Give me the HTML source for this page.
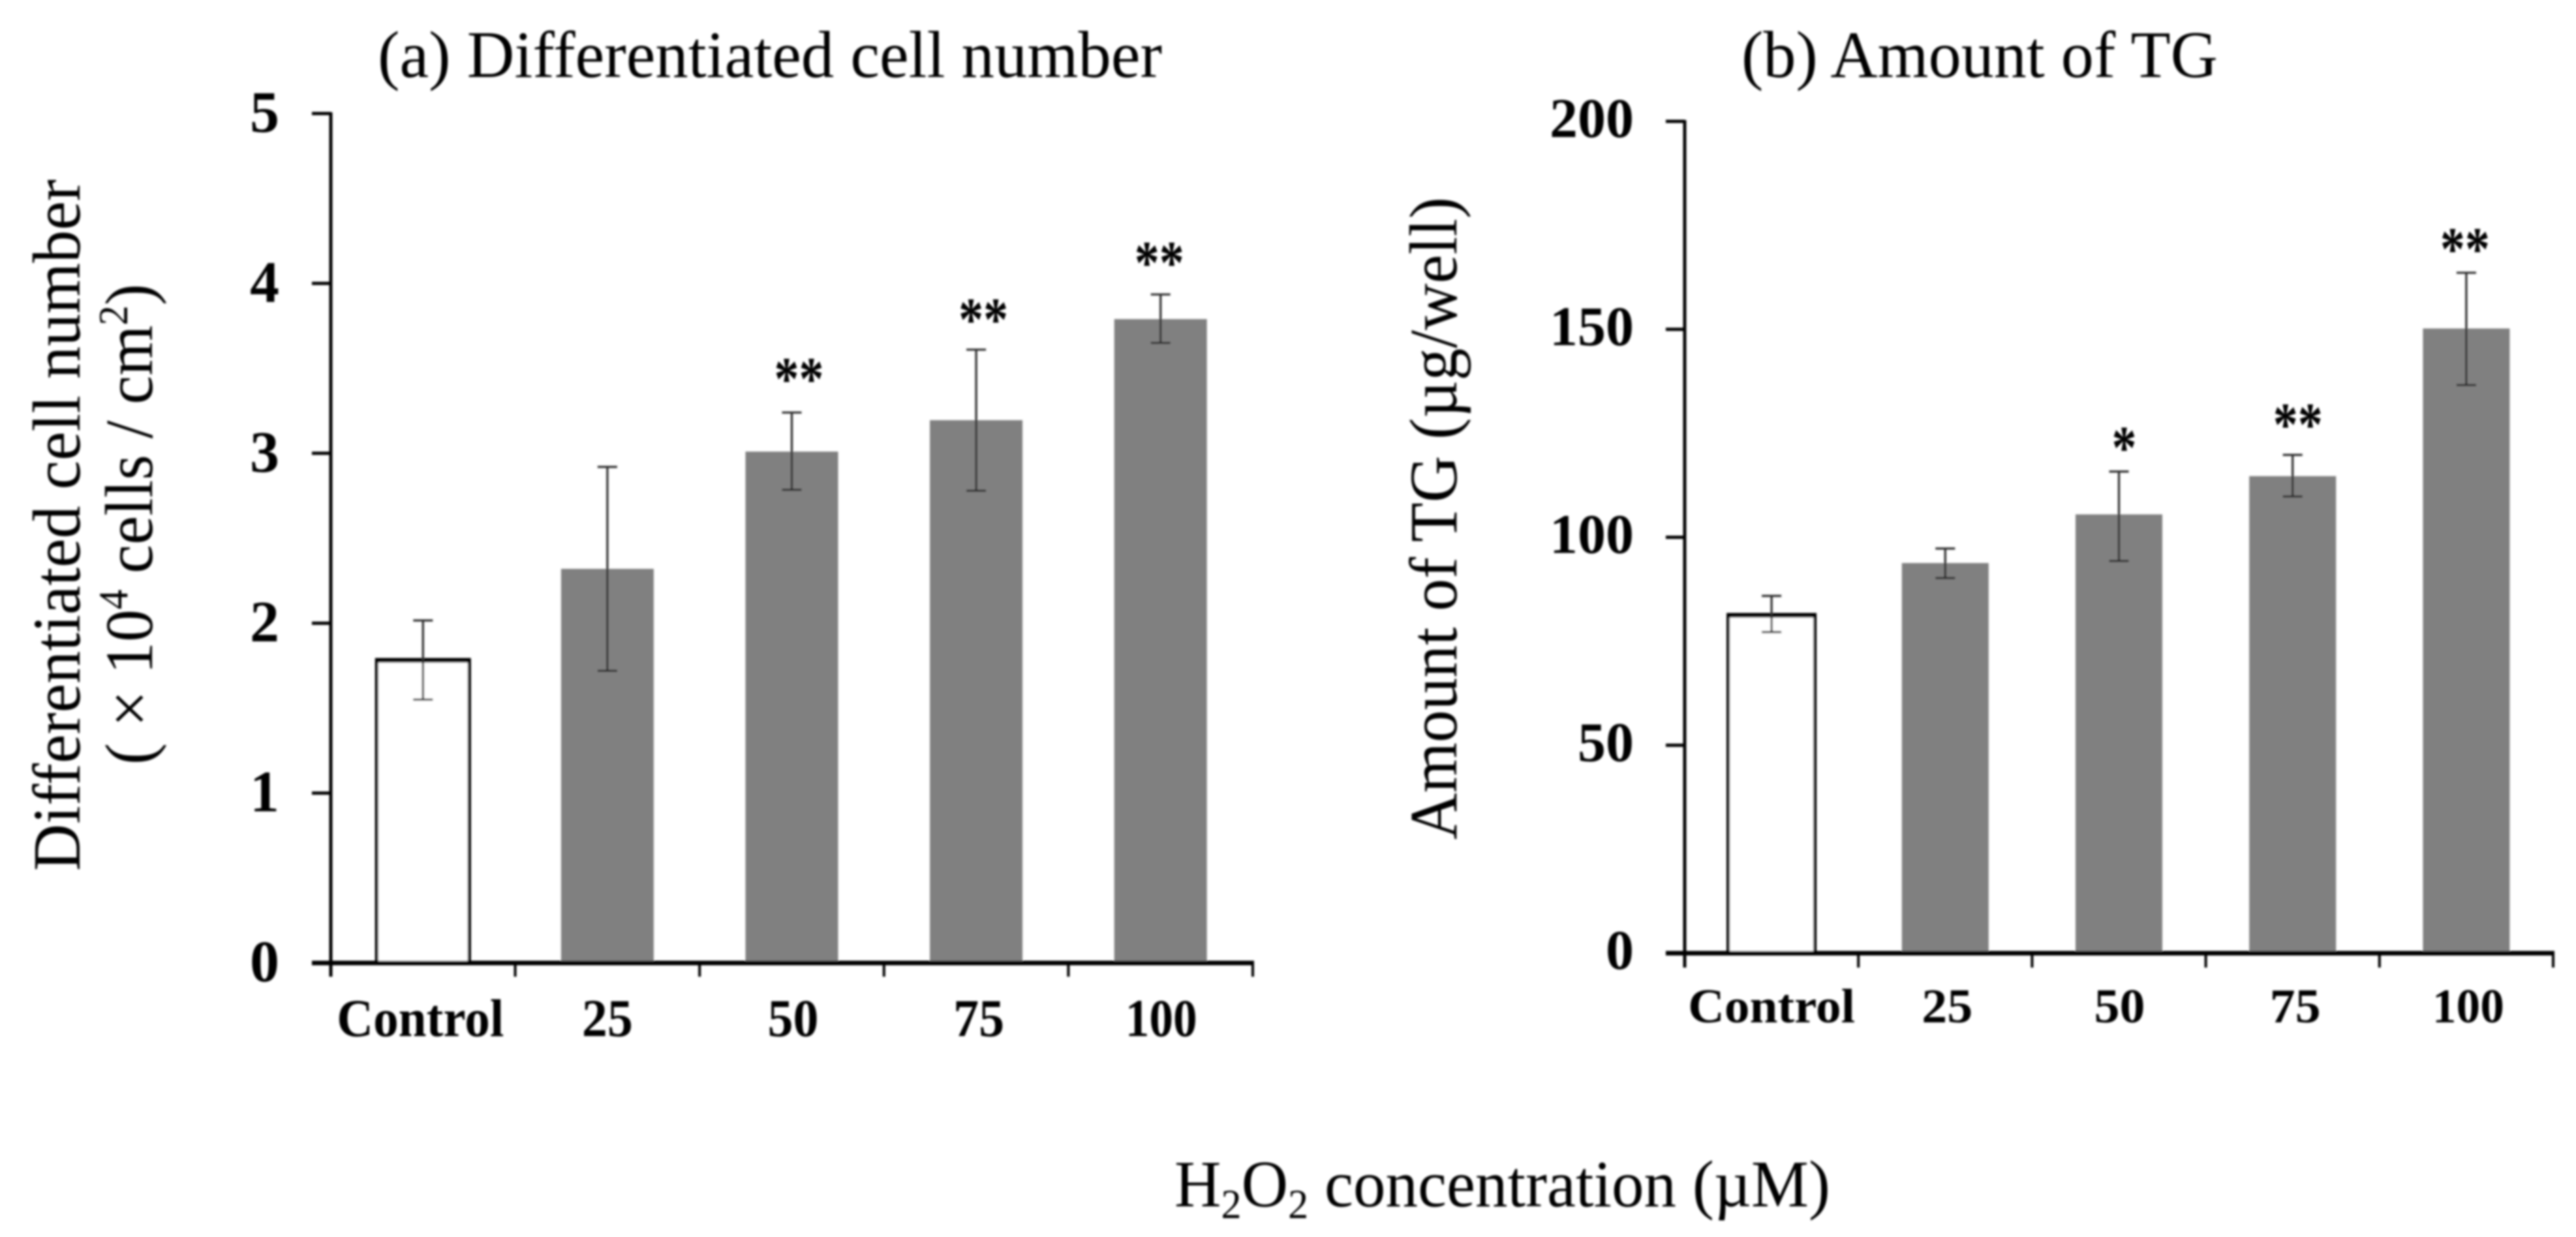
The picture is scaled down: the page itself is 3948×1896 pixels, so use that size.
<!DOCTYPE html>
<html lang="en">
<head>
<meta charset="utf-8">
<title>H2O2 concentration charts</title>
<style>
html,body{margin:0;padding:0;background:#fff;width:3948px;height:1896px;overflow:hidden}
svg{display:block}
text{font-family:"Liberation Serif",serif;fill:#000}
</style>
</head>
<body>
<svg id="figure" width="3948" height="1896" viewBox="0 0 3948 1896" xmlns="http://www.w3.org/2000/svg">
  <defs>
    <filter id="soft" filterUnits="userSpaceOnUse" x="0" y="0" width="3948" height="1896">
      <feGaussianBlur stdDeviation="1.6"/>
    </filter>
  </defs>
  <rect x="0" y="0" width="3948" height="1896" fill="#fff"/>
  <g id="root" filter="url(#soft)">
    <text x="579" y="118" font-size="102" textLength="1202" lengthAdjust="spacingAndGlyphs">(a) Differentiated cell number</text>
    <text x="2669" y="118" font-size="102" textLength="730" lengthAdjust="spacingAndGlyphs">(b) Amount of TG</text>
    <text transform="translate(122,1335) rotate(-90)" font-size="104" textLength="1060" lengthAdjust="spacingAndGlyphs">Differentiated cell number</text>
    <text transform="translate(233,1172) rotate(-90)" font-size="104" textLength="737" lengthAdjust="spacingAndGlyphs">( × 10<tspan font-size="64" dy="-38">4</tspan><tspan dy="38"> cells / cm</tspan><tspan font-size="64" dy="-38">2</tspan><tspan dy="38">)</tspan></text>
    <text transform="translate(2232,1287) rotate(-90)" font-size="104" textLength="985" lengthAdjust="spacingAndGlyphs">Amount of TG (µg/well)</text>
    <text x="1800" y="1849" font-size="102" textLength="1005" lengthAdjust="spacingAndGlyphs">H<tspan font-size="64" dy="18">2</tspan><tspan dy="-18">O</tspan><tspan font-size="64" dy="18">2</tspan><tspan dy="-18"> concentration (µM)</tspan></text>
  </g>
</svg>
<script>
// Shared category labels
const categories = ['Control', '25', '50', '75', '100'];

// Chart (a): differentiated cell number
const cellTicks = [0, 1, 2, 3, 4, 5];
const cellValues = [1.785, 2.32, 3.01, 3.195, 3.79];
const cellErrorHigh = [2.016, 2.92, 3.24, 3.61, 3.935];
const cellErrorLow = [1.55, 1.72, 2.785, 2.78, 3.65];
const cellStars = ['', '', '**', '**', '**'];
const cellStarLevels = [0, 0, 3.487, 3.836, 4.17];

// Chart (b): amount of TG
const tgTicks = [0, 50, 100, 150, 200];
const tgValues = [81.4, 93.8, 105.5, 114.7, 150.2];
const tgErrorHigh = [85.9, 97.3, 115.8, 119.8, 163.6];
const tgErrorLow = [77.2, 90.2, 94.3, 109.8, 136.6];
const tgStars = ['', '', '*', '**', '**'];
const tgStarLevels = [0, 0, 123.5, 129.1, 171.3];

const NS = 'http://www.w3.org/2000/svg';
const root = document.getElementById('root');

function make(tag, attrs, parent) {
  const el = document.createElementNS(NS, tag);
  for (const k in attrs) el.setAttribute(k, attrs[k]);
  parent.appendChild(el);
  return el;
}

function drawChart(cfg) {
  const y = v => cfg.y0 - (v / cfg.yMax) * (cfg.y0 - cfg.yTop);
  const step = (cfg.xEnd - cfg.xStart) / cfg.categories.length;
  const xEdge = i => cfg.xStart + step * i;
  const xMid = i => cfg.xStart + step * (i + 0.5);

  const g = make('g', {}, root);
  
  

  cfg.values.forEach((v, i) => {
    const isControl = i === 0;
    const bar = make('rect', {
      x: xMid(i) - cfg.barWidth / 2,
      y: y(v),
      width: cfg.barWidth,
      height: cfg.y0 - y(v),
      fill: isControl ? '#fff' : '#808080',
      stroke: isControl ? '#000' : 'none',
      'stroke-width': isControl ? 5 : 0
    }, g);
    
    
    if (isControl) {
      const cap = make('line', {
        x1: xMid(i) - cfg.barWidth / 2 - 2,
        x2: xMid(i) + cfg.barWidth / 2 + 2,
        y1: y(v) + 1,
        y2: y(v) + 1,
        stroke: '#000',
        'stroke-width': 7
      }, g);
      
      
    }
  });

  cfg.values.forEach((v, i) => {
    const c = xMid(i);
    const hi = y(cfg.high[i]);
    const lo = y(cfg.low[i]);
    const p = make('path', {
      d: 'M' + (c - 15) + ' ' + hi + 'H' + (c + 15) + 'M' + c + ' ' + hi + 'V' + lo + 'M' + (c - 15) + ' ' + lo + 'H' + (c + 15),
      fill: 'none',
      stroke: '#2a2a2a',
      'stroke-width': 3.2
    }, g);
    
    

    if (cfg.stars[i]) {
      const w = cfg.stars[i].length * 38;
      const s = make('text', {
        x: c + (i === 4 ? cfg.lastStarShift : cfg.starShift) - w / 2,
        y: y(cfg.starLevels[i]) + 44,
        'font-size': 94,
        'font-weight': 'bold',
        textLength: w,
        lengthAdjust: 'spacingAndGlyphs'
      }, g);
      s.textContent = cfg.stars[i];
      
      
    }
  });

  const yAxis = make('line', {x1: cfg.xStart, x2: cfg.xStart, y1: cfg.yTop - 2, y2: cfg.y0 + cfg.xTick, stroke: '#000', 'stroke-width': 5}, g);
  
  

  const xAxis = make('line', {x1: cfg.xStart - 29, x2: cfg.xEnd + 2, y1: cfg.y0, y2: cfg.y0, stroke: '#000', 'stroke-width': 7}, g);
  
  

  cfg.ticks.forEach(t => {
    const tick = make('line', {x1: cfg.xStart - 29, x2: cfg.xStart, y1: y(t), y2: y(t), stroke: '#000', 'stroke-width': 5}, g);
    
    
    const lab = make('text', {
      x: cfg.yLabelX,
      y: y(t) + cfg.yLabelDrop,
      'font-size': cfg.yFont,
      'font-weight': 'bold',
      'text-anchor': 'end'
    }, g);
    lab.textContent = t;
    
    
  });

  for (let i = 0; i <= cfg.categories.length; i++) {
    const tick = make('line', {x1: xEdge(i), x2: xEdge(i), y1: cfg.y0, y2: cfg.y0 + cfg.xTick, stroke: '#000', 'stroke-width': 4}, g);
    
    
  }

  cfg.categories.forEach((name, i) => {
    const w = name.length === 7 ? 256 : (name.length === 3 ? 110 : 78);
    const lab = make('text', {
      x: xMid(i) + cfg.labelShift[i] - w / 2,
      y: cfg.xLabelY,
      'font-size': cfg.xFont,
      'font-weight': 'bold',
      textLength: w,
      lengthAdjust: 'spacingAndGlyphs'
    }, g);
    lab.textContent = name;
    
    
  });
}

drawChart({
  name: 'chart-a-differentiated-cell-number',
  categories: categories, ticks: cellTicks, values: cellValues, high: cellErrorHigh, low: cellErrorLow,
  stars: cellStars, starLevels: cellStarLevels, starShift: 11, lastStarShift: -2,
  yMax: 5, y0: 1476, yTop: 174, xStart: 507, xEnd: 1920, barWidth: 142, xTick: 21,
  yLabelX: 428, yLabelDrop: 28, yFont: 90, xLabelY: 1588, xFont: 82,
  labelShift: [-4, 0, 2, 4, 1]
});

drawChart({
  name: 'chart-b-amount-of-tg',
  categories: categories, ticks: tgTicks, values: tgValues, high: tgErrorHigh, low: tgErrorLow,
  stars: tgStars, starLevels: tgStarLevels, starShift: 8, lastStarShift: -2,
  yMax: 200, y0: 1461, yTop: 186, xStart: 2582, xEnd: 3913, barWidth: 133, xTick: 22,
  yLabelX: 2504, yLabelDrop: 24, yFont: 86, xLabelY: 1567, xFont: 74,
  labelShift: [0, 3, 1, 4, 3]
});
</script>
</body>
</html>
